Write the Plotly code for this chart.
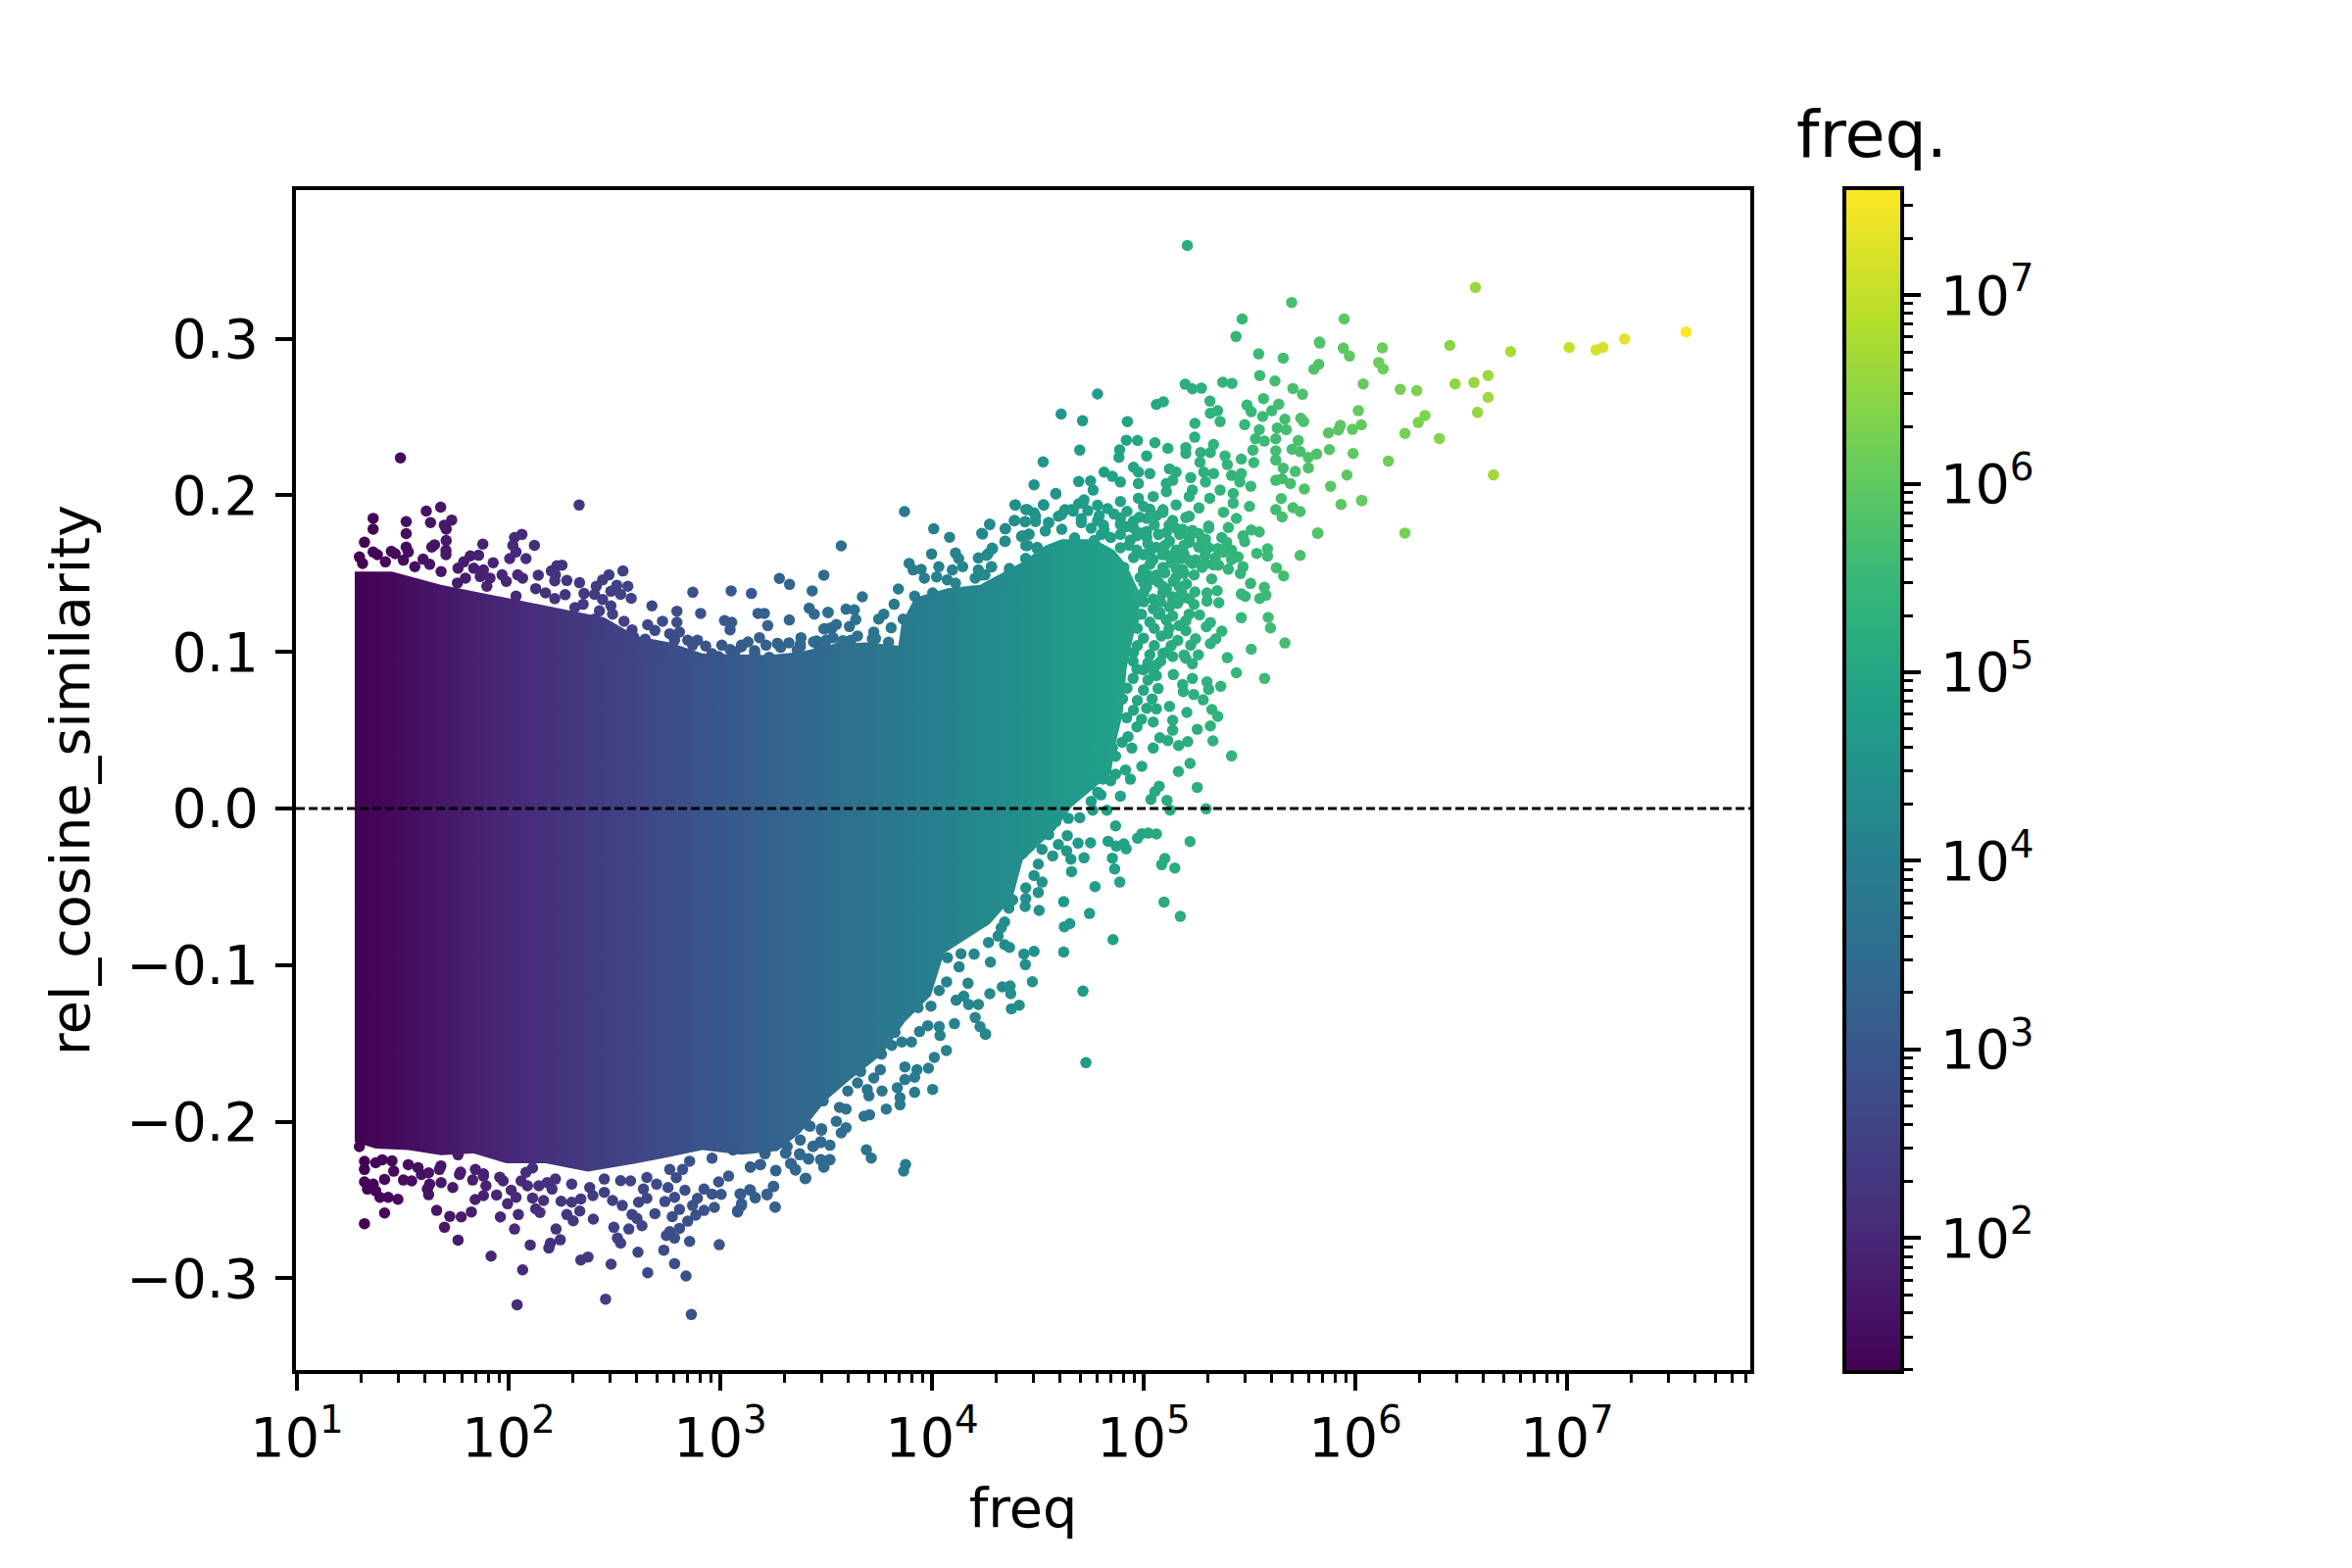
import math
import plotly.graph_objects as go
from plotly.colors import sample_colorscale

# All points are (log10 of freq, rel_cosine_similarity).
core_upper = [(1.273,.1513),(1.449,.1513),(1.680,.1429),(1.989,.1346),(2.298,.1262),(2.452,.1220),(2.606,.1100),(2.761,.1060),(2.915,.0990),(3.224,.0980),(3.378,.1000),(3.532,.1050),(3.687,.1060),(3.841,.1040),(3.856,.1180),(3.918,.1345),(4.073,.1407),(4.227,.1428),(4.427,.1574),(4.535,.1679),(4.613,.1720),(4.767,.1720),(4.860,.1650),(4.921,.1550),(4.990,.1350),(4.950,.1100),(4.920,.0900),(4.900,.0600)]
core_lower = [(4.870,.0427),(4.844,.0219),(4.659,.0010),(4.582,-.0136),(4.428,-.0332),(4.381,-.0571),(4.273,-.0737),(4.057,-.0924),(3.995,-.1195),(3.872,-.1362),(3.764,-.1570),(3.609,-.1737),(3.501,-.1862),(3.378,-.2071),(3.270,-.2187),(3.100,-.2210),(2.915,-.2181),(2.761,-.2224),(2.606,-.2266),(2.375,-.2319),(2.174,-.2266),(1.989,-.2266),(1.835,-.2203),(1.680,-.2213),(1.526,-.2181),(1.372,-.2171),(1.273,-.2129)]

edge_points = [(2.684,.0949),(2.792,.0949),(2.961,.0988),(3.069,.0999),(3.162,.1008),(3.285,.1029),(3.378,.1050),(3.455,.1070),(3.532,.1091),(3.270,.1054),(3.378,.1033),(3.455,.1054),(3.501,.1075),(3.579,.1072),(3.718,.1083),(3.795,.1062),(3.162,.0991),(3.100,.1033),(1.372,-.2262),(1.449,-.2250),(1.572,-.2293),(1.680,-.2282),(1.773,-.2322),(1.881,-.2333),(1.958,-.2354),(2.082,-.2323),(2.221,-.2366),(2.298,-.2398),(2.452,-.2366),(2.529,-.2376),(2.653,-.2356),(2.761,-.2305),(2.855,-.2252),(2.961,-.2233),(3.060,-.2180)]

dense_band = [(4.736,.1902),(4.829,.1915),(4.921,.1898),(5.029,.1912),(5.091,.1890),(4.705,.1851),(4.782,.1838),(4.890,.1856),(4.952,.1835),(5.014,.1852),(5.137,.1840),(5.199,.1858),(4.752,.1790),(4.813,.1775),(4.952,.1792),(5.014,.1770),(5.153,.1789),(5.230,.1775),(5.307,.1790),(4.674,.1728),(4.767,.1712),(4.844,.1730),(4.937,.1715),(5.014,.1732),(5.122,.1708),(5.215,.1726),(5.276,.1712),(5.369,.1730),(4.890,.1665),(4.968,.1650),(5.060,.1668),(5.153,.1650),(5.307,.1666),(5.415,.1650),(4.952,.1602),(5.045,.1590),(5.137,.1605),(5.245,.1588),(5.338,.1600),(5.415,.1590),(4.906,.1540),(4.999,.1525),(5.091,.1540),(5.184,.1526),(5.276,.1540),(5.400,.1528),(4.983,.1475),(5.045,.1462),(5.153,.1478),(4.921,.1402),(5.014,.1414),(5.107,.1400),(5.168,.1416),(4.968,.1350),(5.045,.1338),(5.137,.1352),(5.215,.1340),(4.952,.1290),(5.045,.1275),(5.122,.1288),(4.952,.1205),(5.029,.1190),(5.107,.1204),(4.921,.1100),(4.999,.1088),(5.083,.1102),(4.952,.0995),(5.029,.0982),(5.107,.0996),(4.968,.0890),(5.045,.0880),(4.921,.0768),(4.999,.0755),(5.068,.0766),(4.875,.0642),(4.952,.0628),(5.014,.0640)]

dense_band_fill = [(4.79,.1870),(4.86,.1880),(4.98,.1860),(5.06,.1870),(4.81,.1810),(4.92,.1800),(5.05,.1810),(5.12,.1810),(4.80,.1750),(4.89,.1750),(4.98,.1760),(5.07,.1750),(5.17,.1750),(5.26,.1755),(4.93,.1680),(5.02,.1690),(5.10,.1680),(5.19,.1680),(5.26,.1670),(5.35,.1660),(5.00,.1620),(5.09,.1620),(5.19,.1625),(5.29,.1620),(5.03,.1560),(5.13,.1570),(5.23,.1565),(5.33,.1555),(5.02,.1490),(5.10,.1505),(5.19,.1500),(5.00,.1440),(5.07,.1445),(5.14,.1450),(5.00,.1380),(5.09,.1375),(5.18,.1380),(5.00,.1320),(5.08,.1320),(5.16,.1310),(4.99,.1240),(5.07,.1240),(4.97,.1150),(5.05,.1150),(5.12,.1150),(4.97,.1040),(5.05,.1040),(5.13,.1040),(4.95,.0940),(5.02,.0930),(5.08,.0940),(4.95,.0830),(5.02,.0820),(4.90,.0700),(4.97,.0690),(5.04,.0700),(4.92,.0580),(4.99,.0570)]

upper_left = [(1.489,.2239),(2.333,.1938),(1.679,.1924),(1.611,.1899),(1.360,.1853),(1.516,.1832),(1.731,.1842),(1.631,.1826),(1.360,.1784),(1.696,.1809),(1.705,.1784),(1.516,.1755),(1.319,.1700),(1.705,.1711),(1.650,.1684),(1.637,.1669),(1.516,.1669),(1.704,.1648),(1.704,.1621),(1.526,.1638),(1.360,.1638),(1.446,.1642),(1.295,.1606),(1.380,.1621),(1.464,.1627),(1.503,.1586),(1.596,.1592),(1.627,.1559),(1.418,.1575),(1.310,.1565),(1.557,.1544),(1.681,.1513),(1.878,.1688),(2.063,.1750),(2.028,.1730),(2.020,.1680),(2.122,.1680),(2.035,.1638),(2.005,.1596),(2.082,.1596),(1.927,.1569),(1.858,.1617),(1.819,.1613),(1.788,.1575),(1.761,.1534),(1.835,.1534),(1.881,.1523),(1.796,.1471),(1.758,.1440),(1.866,.1481),(1.912,.1471),(1.897,.1419),(1.969,.1492),(1.989,.1450),(2.043,.1492),(2.066,.1471),(2.140,.1490),(2.252,.1554),(2.228,.1550),(2.202,.1517),(2.221,.1492),(2.218,.1454),(2.275,.1456),(2.335,.1442),(2.128,.1404),(2.174,.1377),(2.218,.1340),(2.267,.1365),(2.356,.1373),(2.035,.1356),(2.540,.1517),(2.474,.1492),(2.444,.1460),(2.414,.1419),(2.406,.1367),(2.563,.1419),(2.511,.1425),(2.483,.1387),(2.529,.1367),(2.579,.1342),(2.444,.1335),(2.352,.1304),(2.313,.1283),(2.483,.1294),(2.491,.1241),(2.429,.1262),(2.406,.1210),(2.344,.1189),(2.677,.1294),(2.795,.1260),(2.870,.1381),(3.051,.1390),(3.147,.1373),(3.279,.1469),(3.327,.1431),(3.489,.1490),(3.434,.1390),(2.907,.1246),(3.420,.1279),(3.444,.1241),(3.178,.1246),(3.208,.1246),(3.509,.1252),(3.020,.1200),(3.054,.1189),(3.046,.1141),(3.326,.1204),(3.224,.1168),(2.545,.1196),(2.657,.1173),(2.727,.1196),(2.795,.1189),(2.807,.1127),(2.691,.1137),(2.583,.1141),(2.591,.1095),(2.761,.1116),(2.645,.1081),(2.784,.1075),(2.846,.1075),(2.892,.1075),(2.869,.1043),(2.931,.1037),(3.007,.1043),(3.046,.1016),(3.100,.1043),(3.131,.1064),(3.185,.1091),(3.216,.1043),(3.270,.1054),(3.324,.1058),(3.381,.1091),(3.440,.1064),(3.494,.1148),(3.524,.1154),(3.501,.1075),(2.660,.1012),(2.722,.1022),(2.822,.0991),(2.877,.0960),(2.769,.0981),(2.931,.0929),(2.992,.0970),(3.162,.0970),(3.231,.0966),(3.363,.1012),(3.478,.1012),(2.452,.1043),(2.522,.1012),(2.390,.1116),(2.506,.1116)]

upper_mid = [(3.870,.1896),(3.571,.1677),(4.008,.1786),(4.083,.1732),(4.272,.1815),(4.235,.1757),(4.346,.1786),(4.346,.1707),(4.390,.1840),(4.440,.1832),(4.394,.1938),(4.526,.1940),(4.585,.2009),(4.443,.1909),(4.482,.1888),(4.489,.1832),(3.998,.1625),(4.111,.1631),(4.126,.1596),(4.145,.1544),(4.032,.1544),(3.892,.1565),(3.911,.1523),(3.949,.1527),(3.964,.1471),(4.022,.1479),(4.096,.1523),(4.072,.1460),(4.111,.1439),(4.219,.1600),(4.265,.1627),(4.284,.1663),(4.281,.1544),(4.219,.1523),(4.204,.1471),(4.250,.1492),(4.304,.1429),(4.366,.1533),(4.397,.1502),(4.427,.1742),(4.458,.1752),(4.443,.1679),(4.497,.1659),(4.443,.1596),(4.551,.1825),(4.613,.1878),(4.659,.1909),(4.713,.1951),(3.841,.1402),(3.671,.1352),(3.821,.1304),(3.918,.1356),(4.003,.1377),(4.188,.1387),(3.748,.1210),(3.772,.1241),(3.807,.1154),(3.725,.1127),(3.733,.1085),(3.648,.1102),(3.617,.1075),(3.594,.1273),(3.633,.1268),(3.640,.1206),(3.610,.1162),(3.548,.1175),(3.525,.1147),(3.489,.1147),(3.563,.1033),(3.509,.1252),(3.864,.1210),(3.910,.1241)]

upper_right = [(5.543,.2903),(5.659,.2876),(5.832,.2972),(5.943,.2939),(5.972,.2889),(5.827,.2836),(5.804,.2805),(5.548,.2765),(5.620,.2730),(6.037,.2711),(5.196,.2709),(5.230,.2680),(5.273,.2684),(5.373,.2722),(5.417,.2715),(5.705,.2682),(5.750,.2645),(4.782,.2647),(5.060,.2580),(5.093,.2597),(5.313,.2601),(5.566,.2617),(5.488,.2576),(5.638,.2582),(4.610,.2519),(4.711,.2476),(4.923,.2471),(6.014,.2540),(5.315,.2524),(5.349,.2540),(5.361,.2471),(5.508,.2534),(5.562,.2503),(5.605,.2540),(5.667,.2486),(5.742,.2492),(5.755,.2471),(5.929,.2446),(6.028,.2450),(5.986,.2421),(5.920,.2417),(5.873,.2398),(5.242,.2459),(5.477,.2451),(5.546,.2419),(5.631,.2430),(5.673,.2419),(5.241,.2371),(5.528,.2361),(5.570,.2346),(5.624,.2361),(5.730,.2350),(4.918,.2352),(4.971,.2350),(5.053,.2336),(5.114,.2300),(5.199,.2305),(5.199,.2267),(5.330,.2325),(5.315,.2273),(4.698,.2288),(4.886,.2290),(4.883,.2242),(5.269,.2273),(5.266,.2211),(5.516,.2288),(5.624,.2284),(5.701,.2294),(5.739,.2279),(5.817,.2263),(5.778,.2242),(5.877,.2292),(5.989,.2267),(4.525,.2213),(5.014,.2252),(5.384,.2252),(5.395,.2196),(5.461,.2231),(5.520,.2209),(5.624,.2225),(4.952,.2179),(4.975,.2148),(4.813,.2148),(4.852,.2121),(5.778,.2175),(5.659,.2173),(5.716,.2152),(5.960,.2129),(5.122,.2169),(5.153,.2148),(5.029,.2138),(5.284,.2148),(5.222,.2113),(5.330,.2138),(5.415,.2127),(5.461,.2138),(5.624,.2096),(5.654,.2106),(5.693,.2075),(4.693,.2088),(4.749,.2092),(4.761,.2033),(4.890,.2085),(4.482,.2067),(4.585,.2012),(4.975,.2075),(5.107,.2075),(5.137,.2096),(5.292,.2085),(5.454,.2085),(5.506,.2058),(5.759,.2040),(5.883,.2058),(5.361,.2033),(5.230,.2033),(5.423,.2012),(5.107,.2023),(4.528,.1937),(4.392,.1939),(4.451,.1908),(4.628,.1908),(4.667,.1898),(4.718,.1971),(4.693,.1946),(4.782,.1936),(4.890,.1961),(4.975,.1981),(5.045,.1992),(5.215,.1992),(5.312,.1981),(5.423,.1950),(5.500,.1929),(5.650,.1979),(5.932,.1942),(6.029,.1967),(5.624,.1908),(5.654,.1862),(5.705,.1921),(5.739,.1896),(5.153,.1939),(5.261,.1919),(4.999,.1929),(5.091,.1908),(5.377,.1892),(5.438,.1852),(5.215,.1866),(4.489,.1866),(4.273,.1814),(4.389,.1837),(4.440,.1831),(4.347,.1787),(4.239,.1752),(4.551,.1825),(4.597,.1866),(4.705,.1825),(4.535,.1772),(4.613,.1783),(4.458,.1750),(4.423,.1737),(4.344,.1706),(4.286,.1658),(4.258,.1616),(4.451,.1679),(4.497,.1668),(4.443,.1595),(4.366,.1522),(4.281,.1543),(4.235,.1491),(4.397,.1491),(4.890,.1814),(4.968,.1741),(5.107,.1762),(5.184,.1783),(5.307,.1804),(5.400,.1794),(5.508,.1779),(5.546,.1766),(5.469,.1741),(5.477,.1704),(5.821,.1758),(5.392,.1700),(5.292,.1720),(5.215,.1700),(5.029,.1637),(5.114,.1616),(5.176,.1595),(5.215,.1585),(5.292,.1564),(5.377,.1637),(5.446,.1606),(5.534,.1629),(5.585,.1658),(5.585,.1612),(5.739,.1616),(5.469,.1543),(5.353,.1554),(5.153,.1533),(5.627,.1537),(5.661,.1485),(5.457,.1501),(5.321,.1466),(5.238,.1491),(5.060,.1491),(4.999,.1501),(5.202,.1433),(5.505,.1437),(5.570,.1412),(5.091,.1418),(5.347,.1391),(5.242,.1383),(5.299,.1376),(5.461,.1370),(5.480,.1355),(5.577,.1362),(5.548,.1341),(5.184,.1345),(5.355,.1314),(5.299,.1324),(5.238,.1303),(5.137,.1324),(5.264,.1236),(5.461,.1218),(5.588,.1220),(5.215,.1241),(5.137,.1230),(5.076,.1251),(5.315,.1188),(5.296,.1161),(5.599,.1153),(5.199,.1199),(5.168,.1168),(5.114,.1116),(5.199,.1136),(5.369,.1132),(5.341,.1084),(5.315,.1053),(5.245,.1084),(5.161,.1074),(5.222,.1043),(5.667,.1057),(5.508,.1017),(5.258,.0981),(5.395,.0963),(5.191,.0980),(5.137,.0970),(5.091,.0990),(5.230,.0924),(5.199,.0959),(5.060,.0917),(4.999,.0886),(5.438,.0867),(5.571,.0830),(5.140,.0855),(5.060,.0848),(5.230,.0830),(5.299,.0809),(5.364,.0780),(5.184,.0792),(5.307,.0761),(5.187,.0746),(5.236,.0728),(5.281,.0694),(5.122,.0652),(5.060,.0636),(5.204,.0613),(5.322,.0632),(5.350,.0588),(5.137,.0563),(5.315,.0527),(5.253,.0506),(5.137,.0500),(5.045,.0552),(4.968,.0521)]

lower_right = [(5.415,.0336),(5.327,.0432),(5.208,.0427),(5.165,.0402),(5.114,.0434),(5.076,.0452),(5.045,.0386),(5.219,.0288),(5.164,.0236),(4.991,.0269),(4.944,.0386),(4.926,.0459),(4.898,.0423),(4.937,.0187),(4.914,.0246),(4.867,.0334),(4.852,.0386),(4.813,.0354),(4.775,.0386),(4.844,.0177),(4.806,.0188),(4.767,.0219),(4.867,.0219),(4.721,.0240),(4.698,.0173),(5.253,.0135),(4.890,.0079),(4.798,.0087),(4.783,.0104),(5.073,.0142),(5.053,.0108),(5.110,.0052),(5.034,.0058),(4.752,.0046),(5.295,-.0002),(5.125,-.0011),(4.826,-.0011),(4.759,-.0011),(4.698,-.0059),(4.644,-.0063),(4.585,-.0084),(4.867,-.0111),(4.551,-.0167),(5.060,-.0163),(5.022,-.0157),(4.991,-.0161),(4.971,-.0190),(5.219,-.0211),(4.832,-.0209),(4.749,-.0219),(4.690,-.0221),(4.639,-.0173),(4.597,-.0230),(4.906,-.0225),(4.870,-.0240),(4.917,-.0257),(4.520,-.0261),(4.636,-.0271),(4.570,-.0303),(4.428,-.0286),(4.656,-.0324),(4.718,-.0315),(4.852,-.0317),(5.100,-.0319),(5.085,-.0359),(5.147,-.0380),(4.863,-.0386),(4.659,-.0403),(4.502,-.0355),(4.482,-.0428),(4.520,-.0470),(4.887,-.0470),(4.770,-.0499),(4.502,-.0536),(4.443,-.0507),(5.096,-.0597),(4.622,-.0595),(4.443,-.0574),(4.381,-.0584),(4.440,-.0626),(4.363,-.0636),(4.506,-.0651),(4.744,-.0670),(5.173,-.0689),(4.651,-.0735),(4.625,-.0755),(4.343,-.0724),(4.327,-.0762),(4.312,-.0814),(4.855,-.0837),(4.343,-.0870),(4.366,-.0887),(4.482,-.0912),(4.434,-.0929),(4.622,-.0916),(4.441,-.0997),(4.276,-.0981),(4.474,-.1106),(4.713,-.1166),(4.332,-.1139),(4.369,-.1133),(4.372,-.1183),(4.273,-.1183),(4.412,-.1256),(4.375,-.1279),(4.253,-.1442),(4.727,-.1623),(4.267,-.0855),(4.273,-.0605),(4.289,-.0501),(4.358,-.0511)]

lower_mid = [(4.137,-.0928),(4.199,-.0930),(4.073,-.0953),(4.128,-.1011),(4.069,-.1107),(4.170,-.1116),(4.034,-.1162),(4.150,-.1199),(4.114,-.1224),(4.219,-.1251),(4.173,-.1251),(3.995,-.1262),(3.934,-.1272),(4.204,-.1335),(4.106,-.1374),(3.980,-.1387),(4.034,-.1393),(4.038,-.1449),(4.227,-.1393),(4.252,-.1439),(3.941,-.1424),(3.903,-.1491),(3.857,-.1491),(3.810,-.1512),(3.825,-.1429),(3.779,-.1376),(4.068,-.1545),(4.011,-.1589),(3.761,-.1568),(3.687,-.1564),(3.983,-.1658),(3.929,-.1668),(3.872,-.1650),(3.756,-.1668),(3.725,-.1721),(3.622,-.1612),(3.663,-.1679),(3.918,-.1716),(3.872,-.1731),(4.003,-.1794),(3.918,-.1812),(3.836,-.1783),(3.764,-.1804),(3.694,-.1794),(3.648,-.1752),(3.702,-.1835),(3.849,-.1846),(3.849,-.1892),(3.784,-.1919),(3.602,-.1804),(3.594,-.1919),(3.705,-.1956),(3.679,-.1965),(3.548,-.1998),(3.594,-.2038),(3.571,-.2071),(3.690,-.2179),(3.713,-.2232),(3.875,-.2273),(3.866,-.2315),(3.518,-.2150),(3.474,-.2127),(3.437,-.2159),(3.478,-.2054),(3.424,-.2029),(3.517,-.2242),(3.474,-.2242),(3.489,-.2290),(3.417,-.2238),(3.375,-.2205),(3.335,-.2267),(3.355,-.2309),(3.404,-.2361),(3.309,-.2200),(3.262,-.2311),(3.211,-.2200),(3.190,-.2273),(3.142,-.2290),(3.251,-.2413),(3.221,-.2467),(3.259,-.2545),(3.139,-.2434),(3.165,-.2486),(3.093,-.2461),(3.100,-.2524),(3.082,-.2576),(3.316,-.2159),(3.255,-.2117),(3.378,-.2117),(3.563,-.1908),(3.486,-.1867)]

lower_left = [(1.319,-.2651),(1.414,-.2583),(1.477,-.2495),(1.431,-.2483),(1.392,-.2483),(1.372,-.2441),(1.333,-.2430),(1.319,-.2384),(1.360,-.2399),(1.414,-.2368),(1.319,-.2305),(1.319,-.2253),(1.295,-.2159),(1.403,-.2243),(1.457,-.2316),(1.503,-.2372),(1.542,-.2378),(1.526,-.2274),(1.588,-.2337),(1.622,-.2326),(1.627,-.2399),(1.616,-.2430),(1.622,-.2466),(1.681,-.2389),(1.736,-.2420),(1.768,-.2337),(1.673,-.2305),(1.761,-.2211),(1.830,-.2372),(1.843,-.2305),(1.881,-.2347),(1.893,-.2409),(1.881,-.2472),(1.842,-.2497),(1.824,-.2576),(1.776,-.2608),(1.722,-.2604),(1.660,-.2566),(1.697,-.2674),(1.761,-.2756),(1.917,-.2858),(1.961,-.2608),(2.028,-.2685),(2.046,-.2593),(1.995,-.2524),(1.943,-.2468),(2.012,-.2437),(2.035,-.2483),(1.974,-.2378),(2.059,-.2378),(2.089,-.2409),(2.113,-.2487),(2.165,-.2503),(2.128,-.2556),(2.148,-.2580),(2.143,-.2409),(2.182,-.2389),(2.205,-.2430),(2.113,-.2295),(2.248,-.2508),(2.341,-.2493),(2.298,-.2514),(2.336,-.2570),(2.275,-.2593),(2.305,-.2633),(2.400,-.2622),(2.224,-.2685),(2.244,-.2754),(2.197,-.2775),(2.190,-.2806),(2.102,-.2787),(2.066,-.2946),(2.040,-.3169),(2.375,-.2864),(2.341,-.2883),(2.484,-.2910),(2.458,-.3133),(2.611,-.2833),(2.657,-.2964),(2.733,-.2820),(2.784,-.2906),(2.838,-.2985),(2.863,-.3231),(2.995,-.2785),(2.855,-.2764),(2.529,-.2775),(2.514,-.2743),(2.497,-.2674),(2.568,-.2685),(2.630,-.2664),(2.583,-.2593),(2.606,-.2618),(2.691,-.2587),(2.773,-.2606),(2.807,-.2560),(2.738,-.2510),(2.784,-.2483),(2.833,-.2437),(2.753,-.2420),(2.699,-.2399),(2.614,-.2514),(2.653,-.2489),(2.637,-.2430),(2.537,-.2535),(2.491,-.2503),(2.452,-.2451),(2.398,-.2472),(2.383,-.2420),(2.576,-.2378),(2.792,-.2357),(2.822,-.2305),(2.761,-.2702),(2.784,-.2743),(2.745,-.2727),(2.807,-.2681),(2.846,-.2635),(2.884,-.2597),(2.923,-.2566),(2.972,-.2547),(2.869,-.2535),(2.892,-.2489),(2.923,-.2430),(3.004,-.2464),(2.961,-.2462),(3.039,-.2347),(2.992,-.2384),(3.082,-.2568),(3.100,-.2535),(3.097,-.2462),(3.142,-.2437),(3.165,-.2485),(3.221,-.2462),(3.252,-.2414),(3.259,-.2545),(3.262,-.2314),(3.142,-.2289),(3.188,-.2274),(3.211,-.2205),(3.309,-.2201),(3.355,-.2305),(3.332,-.2268),(3.375,-.2211),(3.417,-.2236),(3.401,-.2364),(3.475,-.2243),(3.489,-.2289),(3.517,-.2243),(3.440,-.2155),(3.474,-.2134),(3.417,-.2024),(3.478,-.2044)]

far_right = [(5.206,.3595),(5.699,.3231),(5.465,.3126),(5.947,.3126),(5.436,.3014),(5.830,.2979),(6.567,.3327),(7.562,.3043),(7.272,.2998),(7.169,.2944),(7.137,.2928),(7.010,.2944),(6.733,.2918),(6.446,.2957),(6.127,.2941),(6.110,.2848),(6.131,.2807),(6.627,.2765),(6.560,.2720),(6.471,.2711),(6.212,.2676),(6.290,.2669),(6.627,.2625),(6.577,.2529),(6.329,.2510),(6.297,.2465),(6.234,.2395),(6.397,.2363),(6.156,.2219),(6.652,.2130),(6.031,.1967),(6.234,.1759),(5.823,.1759)]

y_tick_vals = [-0.3, -0.2, -0.1, 0.0, 0.1, 0.2, 0.3]
y_tick_text = ["\u22120.3", "\u22120.2", "\u22120.1", "0.0", "0.1", "0.2", "0.3"]
x_tick_exps = [1, 2, 3, 4, 5, 6, 7]
bar_tick_exps = [2, 3, 4, 5, 6, 7]
color_min, color_max = 1.301, 7.556   # log10 of the colour limits, about 20 and 3.6e7

points = edge_points + dense_band + dense_band_fill + upper_left + upper_mid + upper_right + lower_right + lower_mid + lower_left + far_right
point_freq = [10 ** p[0] for p in points]
point_sim = [p[1] for p in points]
point_color = [p[0] for p in points]

core = core_upper + core_lower
core_x = [10 ** p[0] for p in core] + [10 ** core[0][0]]
core_y = [p[1] for p in core] + [core[0][1]]
core_lo = min(p[0] for p in core)
core_hi = max(p[0] for p in core)


def frac(e):
    return min(1, max(0, (e - color_min) / (color_max - color_min)))


stops = [i / 40 for i in range(41)]
core_cols = sample_colorscale("Viridis", [frac(core_lo + s * (core_hi - core_lo)) for s in stops])

W, H = 2400, 1600
L, R, T, B = 302.1, 1785.9, 194.1, 1397.9
BL, BR = 1884.1, 1938.9
FS = 55.6
ink = "#000000"
font = "DejaVu Sans"


def sup(e):
    return f"10<sup>{e}</sup>"


def minors(lo, hi):
    return [m * 10 ** e for e in range(lo, hi) for m in range(2, 10)]


fig = go.Figure()
fig.add_trace(go.Scatter(
    x=core_x, y=core_y, mode="lines", line=dict(width=0), fill="toself",
    fillgradient=dict(type="horizontal", colorscale=[[s, c] for s, c in zip(stops, core_cols)]),
    hoverinfo="skip", showlegend=False))
fig.add_trace(go.Scatter(
    x=point_freq, y=point_sim, mode="markers", showlegend=False,
    marker=dict(size=11.5, color=point_color, coloraxis="coloraxis", line=dict(width=0))))

bar_levels = [color_min + i * (color_max - color_min) / 300 for i in range(301)]
fig.add_trace(go.Heatmap(
    x=[0, 1], y=[10 ** v for v in bar_levels], z=[[v, v] for v in bar_levels],
    coloraxis="coloraxis", xaxis="x2", yaxis="y2", hoverinfo="skip"))

axis_common = dict(automargin=False, showgrid=False, zeroline=False, showline=True, linecolor=ink, linewidth=4.2,
                   ticks="outside", ticklen=17, tickwidth=4.2, tickcolor=ink,
                   tickfont=dict(family=font, size=FS, color=ink))
minor_common = dict(ticks="outside", ticklen=9, tickwidth=3.2, tickcolor=ink, showgrid=False)

fig.update_layout(
    width=W, height=H, margin=dict(l=0, r=0, t=0, b=0, autoexpand=False),
    paper_bgcolor="white", plot_bgcolor="white", showlegend=False,
    font=dict(family=font, size=FS, color=ink),
    coloraxis=dict(colorscale="Viridis", cmin=color_min, cmax=color_max, showscale=False),
    xaxis=dict(type="log", domain=[L / W, R / W], range=[0.9958, 7.865], mirror=True,
               tickvals=[10 ** e for e in x_tick_exps], ticktext=[sup(e) for e in x_tick_exps],
               minor=dict(tickvals=minors(1, 8), **minor_common),
               title=dict(text="freq", font=dict(size=FS), standoff=22), **axis_common),
    yaxis=dict(domain=[1 - B / H, 1 - T / H], range=[-.3585, .3948], mirror=True,
               tickvals=y_tick_vals, ticktext=y_tick_text, ticklabelstandoff=6,
               title=dict(text="rel_cosine_similarity", font=dict(size=FS), standoff=20), **axis_common),
    xaxis2=dict(domain=[BL / W, BR / W], range=[0, 1], anchor="y2", showgrid=False, zeroline=False, automargin=False,
                showticklabels=False, ticks="", showline=True, linecolor=ink, linewidth=4.2, mirror=True),
    yaxis2=dict(type="log", domain=[1 - B / H, 1 - T / H], range=[color_min, color_max], anchor="x2",
                side="right", mirror=True, ticklabelstandoff=9,
                tickvals=[10 ** e for e in bar_tick_exps], ticktext=[sup(e) for e in bar_tick_exps],
                minor=dict(tickvals=minors(1, 8), **minor_common), **axis_common),
    shapes=[dict(type="line", xref="x domain", yref="y", x0=0, x1=1, y0=0, y1=0, layer="above",
                 line=dict(color=ink, width=2.8, dash="9px,4px"))],
    annotations=[dict(text="freq.", xref="paper", yref="paper", x=1910 / W, y=1 - 178 / H,
                      xanchor="center", yanchor="bottom", showarrow=False,
                      font=dict(family=font, size=66.7, color=ink))],
)
fig.write_html("out.html", config={"displayModeBar": False}, post_script="document.body.style.margin='0';")
